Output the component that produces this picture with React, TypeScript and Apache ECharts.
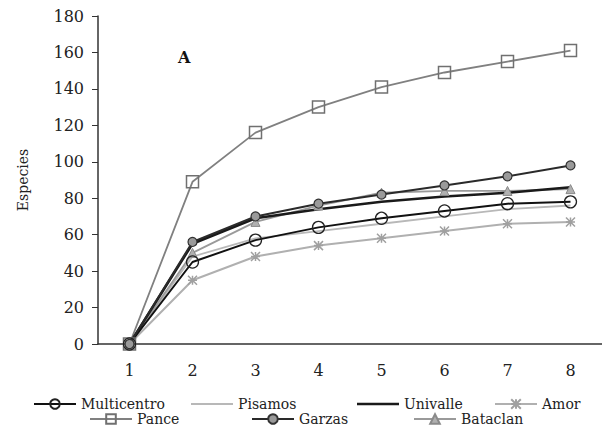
import React, { useEffect, useRef } from "react";
import * as echarts from "echarts";

const categories = ["1", "2", "3", "4", "5", "6", "7", "8"];
const multicentro = [0, 45, 57, 64, 69, 73, 77, 78];
const pisamos = [0, 48, 58, 62, 66, 70, 74, 76];
const univalle = [0, 55, 69, 74, 78, 81, 83, 86];
const amor = [0, 35, 48, 54, 58, 62, 66, 67];
const pance = [0, 89, 116, 130, 141, 149, 155, 161];
const garzas = [0, 56, 70, 77, 82, 87, 92, 98];
const bataclan = [0, 50, 67, 76, 83, 84, 84, 85];

const FONT = "DejaVu Serif";
const asterisk = "path://M0,0L10,10M10,0L0,10M5,0L5,10M0,5L10,5";
const barIcon = (h: number) =>
  `path://M0,0L0.05,0L0,0.05ZM0,${6 - h / 2}L42,${6 - h / 2}L42,${6 + h / 2}L0,${6 + h / 2}ZM42,12L41.95,12L42,11.95Z`;

export default function App() {
  const ref = useRef<HTMLDivElement>(null);
  useEffect(() => {
    if (!ref.current) return;
    const chart = echarts.init(ref.current, undefined, { renderer: "svg" });
    const legendPos: [any, number, number][] = [
      ["Multicentro", 33, 397],
      [{ name: "Pisamos", icon: barIcon(1.8) }, 191, 397],
      [{ name: "Univalle", icon: barIcon(2.5) }, 357, 397],
      ["Amor", 494, 397],
      ["Pance", 89, 412],
      ["Garzas", 251, 412],
      ["Bataclan", 413, 412],
    ];
    chart.setOption({
      animation: false,
      backgroundColor: "#fff",
      grid: { left: 98, top: 16, width: 512, height: 328 },
      legend: legendPos.map(([n, l, t]) => ({
        data: [n],
        left: l,
        top: t,
        padding: 0,
        itemWidth: 42,
        itemHeight: 12,
        symbolKeepAspect: false,
        textStyle: { fontFamily: FONT, fontSize: 14, color: "#222" },
      })),
      graphic: [
        {
          type: "text",
          left: 178,
          top: 49,
          style: { text: "A", font: "bold 16px 'DejaVu Serif'", fill: "#111" },
        },
      ],
      xAxis: {
        type: "category",
        data: categories,
        boundaryGap: true,
        axisLine: { lineStyle: { color: "#333", width: 1.5 } },
        axisTick: { length: 6, lineStyle: { color: "#333" } },
        axisLabel: { fontFamily: FONT, fontSize: 16, color: "#222", margin: 18 },
      },
      yAxis: {
        type: "value",
        min: 0,
        max: 180,
        interval: 20,
        name: "Especies",
        nameLocation: "middle",
        nameGap: 68,
        nameTextStyle: { fontFamily: FONT, fontSize: 14, color: "#222" },
        axisLine: { show: true, lineStyle: { color: "#333", width: 1.5 } },
        axisTick: { show: true, length: 6, lineStyle: { color: "#333" } },
        splitLine: { show: false },
        axisLabel: { fontFamily: FONT, fontSize: 16, color: "#222", margin: 14 },
      },
      series: [
        {
          name: "Pance",
          type: "line",
          data: pance,
          symbol: "rect",
          symbolSize: 12,
          lineStyle: { color: "#808080", width: 1.8 },
          itemStyle: { color: "rgba(0,0,0,0)", borderColor: "#707070", borderWidth: 1.5 },
        },
        {
          name: "Amor",
          type: "line",
          data: amor,
          symbol: asterisk,
          symbolSize: 9,
          lineStyle: { color: "#b0b0b0", width: 2 },
          itemStyle: { color: "#b0b0b0", borderColor: "#a0a0a0", borderWidth: 1.5 },
        },
        {
          name: "Pisamos",
          type: "line",
          data: pisamos,
          symbol: "none",
          lineStyle: { color: "#b8b8b8", width: 1.8 },
          itemStyle: { color: "#b8b8b8" },
        },
        {
          name: "Bataclan",
          type: "line",
          data: bataclan,
          symbol: "triangle",
          symbolSize: 9,
          lineStyle: { color: "#9a9a9a", width: 1.8 },
          itemStyle: { color: "#b0b0b0", borderColor: "#8a8a8a", borderWidth: 1 },
        },
        {
          name: "Univalle",
          type: "line",
          data: univalle,
          symbol: "none",
          lineStyle: { color: "#1a1a1a", width: 2.5 },
          itemStyle: { color: "#1a1a1a" },
        },
        {
          name: "Multicentro",
          type: "line",
          data: multicentro,
          symbol: "circle",
          symbolSize: 12,
          lineStyle: { color: "#111", width: 2 },
          itemStyle: { color: "rgba(0,0,0,0)", borderColor: "#222", borderWidth: 1.3 },
        },
        {
          name: "Garzas",
          type: "line",
          data: garzas,
          symbol: "circle",
          symbolSize: 9,
          lineStyle: { color: "#2a2a2a", width: 2 },
          itemStyle: { color: "#9a9a9a", borderColor: "#333", borderWidth: 1.2 },
        },
      ],
    });
    return () => chart.dispose();
  }, []);
  return <div ref={ref} style={{ width: 602, height: 430, position: "absolute", left: 0, top: 0 }} />;
}
